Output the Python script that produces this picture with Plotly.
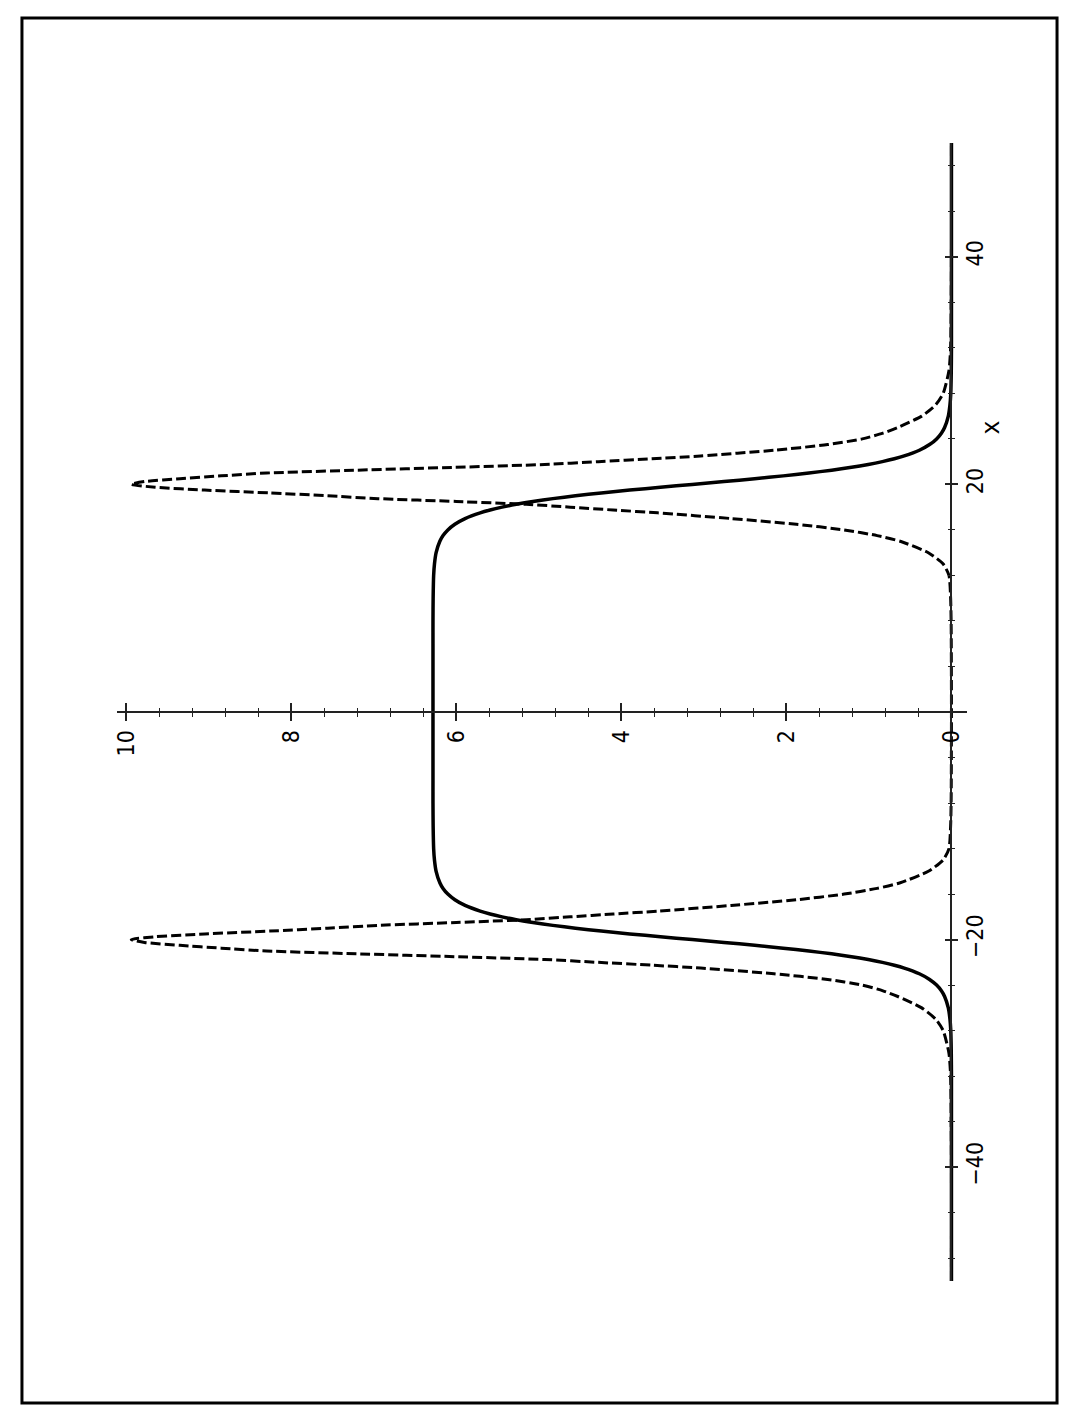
import plotly.graph_objects as go

# variable (drawn vertically) and the two series
v_vals = [-50, -40, -34, -32, -30, -28, -27, -26, -25, -24.5, -24, -23.5, -23, -22.5, -22.25,
          -22, -21.75, -21.5, -21.25, -21, -20.75, -20.5, -20.25, -20, -19.75, -19.5, -19.25,
          -19, -18.75, -18.5, -18.25, -18, -17.75, -17.5, -17, -16.5, -16, -15.5, -15, -14,
          -13, -12, -10, -8, -6, -4,
          0, 4, 6, 8, 10, 12, 13, 14, 15, 15.5, 16, 16.5, 17, 17.5, 17.75, 18, 18.25, 18.5,
          18.75, 19, 19.25, 19.5, 19.75, 20, 20.25, 20.5, 20.75, 21, 21.25, 21.5, 21.75, 22,
          22.25, 22.5, 23, 23.5, 24, 24.5, 25, 26, 27, 28, 30, 32, 34, 40, 50]

solid_vals = [0, 0, 0, 0, 0.002, 0.008, 0.018, 0.038, 0.083, 0.122, 0.180, 0.265, 0.389, 0.572, 0.692,
              0.837, 1.008, 1.211, 1.452, 1.727, 2.039, 2.385, 2.756, 3.142, 3.527, 3.898, 4.244,
              4.556, 4.831, 5.072, 5.275, 5.446, 5.591, 5.711, 5.894, 6.018, 6.103, 6.161, 6.200, 6.245,
              6.265, 6.275, 6.281, 6.283, 6.283, 6.283,
              6.283, 6.283, 6.283, 6.283, 6.281, 6.275, 6.265, 6.245, 6.200, 6.161, 6.103, 6.018, 5.894,
              5.711, 5.591, 5.446, 5.275, 5.072, 4.831, 4.556, 4.244, 3.898, 3.527, 3.142, 2.756,
              2.385, 2.039, 1.727, 1.452, 1.211, 1.008, 0.837, 0.692, 0.572, 0.389, 0.265, 0.180,
              0.122, 0.083, 0.038, 0.018, 0.008, 0.002, 0, 0, 0, 0]

dashed_vals = [0, 0, 0.005, 0.01, 0.03, 0.10, 0.19, 0.36, 0.65, 0.83, 1.08, 1.5, 2.15, 3.04, 3.63,
               4.28, 4.93, 6.02, 7.2, 8.3, 8.85, 9.35, 9.78, 9.94, 9.65, 9.05, 8.26,
               7.56, 6.95, 6.0, 5.15, 4.62, 4.1, 3.56, 2.67, 1.88, 1.3, 0.9, 0.62, 0.28,
               0.10, 0.03, 0.01, 0.004, 0.002, 0.001,
               0, 0.001, 0.002, 0.004, 0.01, 0.03, 0.10, 0.28, 0.62, 0.9, 1.3, 1.88, 2.67, 3.56,
               4.1, 4.62, 5.15, 6.0, 6.95, 7.56, 8.26, 9.05, 9.65, 9.94, 9.78, 9.35, 8.85, 8.3, 7.2,
               6.02, 4.93, 4.28, 3.63, 3.04, 2.15, 1.5, 1.08, 0.83, 0.65, 0.36, 0.19, 0.10, 0.03,
               0.01, 0.005, 0, 0]

value_ticks = [0, 2, 4, 6, 8, 10]
value_labels = ["0", "2", "4", "6", "8", "10"]
var_ticks = [-40, -20, 20, 40]
var_labels = ["\u221240", "\u221220", "20", "40"]
axis_label = "x"

# page offset of the figure inside the browser body (default 8px body margin)
OFF = 8
W, H = 1074 - 2 * OFF, 1421 - 2 * OFF
FONT = "DejaVu Sans Condensed, DejaVu Sans, sans-serif"
AX = "#222222"


def px(x):
    return (x - OFF) / W


def py(y):
    return 1 - (y - OFF) / H


fig = go.Figure()
fig.add_trace(go.Scatter(x=dashed_vals, y=v_vals, mode="lines",
                         line=dict(color="black", width=3, dash="10px,4px",
                                   shape="spline", smoothing=0.6),
                         hoverinfo="skip"))
fig.add_trace(go.Scatter(x=solid_vals, y=v_vals, mode="lines",
                         line=dict(color="black", width=3.5, shape="spline", smoothing=0.6),
                         hoverinfo="skip"))
fig.add_trace(go.Scatter(x=[], y=[], xaxis="x2", yaxis="y2", showlegend=False))

xdom = [px(113), px(967)]
ydom = [py(1281), py(143)]
xrange_ = [10.117, -0.193]
yrange_ = [-50, 50]
xpos = py(712)
ypos = px(951)

fig.update_layout(
    width=W, height=H,
    margin=dict(l=0, r=0, t=0, b=0),
    paper_bgcolor="white", plot_bgcolor="rgba(0,0,0,0)",
    showlegend=False,
    xaxis=dict(domain=xdom, range=xrange_, anchor="free", position=xpos, side="bottom",
               showline=True, linecolor=AX, linewidth=2, showgrid=False, zeroline=False,
               tickmode="array", tickvals=value_ticks, ticktext=value_labels,
               ticks="outside", ticklen=8, tickwidth=1.5, tickcolor=AX,
               tickangle=-90, tickfont=dict(family=FONT, size=23, color="black"),
               minor=dict(tickmode="linear", tick0=0, dtick=0.4, ticks="outside",
                          ticklen=4, tickwidth=1.2, tickcolor=AX, showgrid=False)),
    xaxis2=dict(domain=xdom, range=xrange_, anchor="free", position=xpos, side="bottom",
                overlaying="x", showline=False, showgrid=False, zeroline=False,
                tickmode="array", tickvals=value_ticks, showticklabels=False,
                ticks="inside", ticklen=9, tickwidth=1.5, tickcolor=AX,
                minor=dict(tickmode="linear", tick0=0, dtick=0.4, ticks="inside",
                           ticklen=4, tickwidth=1.2, tickcolor=AX, showgrid=False)),
    yaxis=dict(domain=ydom, range=yrange_, anchor="free", position=ypos, side="right",
               showline=True, linecolor=AX, linewidth=2, showgrid=False, zeroline=False,
               tickmode="array", tickvals=var_ticks, ticktext=var_labels,
               ticks="outside", ticklen=6, tickwidth=1.5, tickcolor=AX,
               tickangle=-90, tickfont=dict(family=FONT, size=23, color="black"),
               ticklabelstandoff=-3,
               minor=dict(tickmode="linear", tick0=0, dtick=4, ticks="outside",
                          ticklen=3, tickwidth=1.2, tickcolor=AX, showgrid=False)),
    yaxis2=dict(domain=ydom, range=yrange_, anchor="free", position=ypos, side="right",
                overlaying="y", showline=False, showgrid=False, zeroline=False,
                tickmode="array", tickvals=var_ticks, showticklabels=False,
                ticks="inside", ticklen=6, tickwidth=1.5, tickcolor=AX,
                minor=dict(tickmode="linear", tick0=0, dtick=4, ticks="inside",
                           ticklen=3, tickwidth=1.2, tickcolor=AX, showgrid=False)),
    annotations=[dict(text=axis_label, xref="paper", yref="y", x=px(990), y=25,
                      xanchor="center", yanchor="middle",
                      showarrow=False, textangle=-90,
                      font=dict(family="DejaVu Sans Mono, monospace", size=24, color="black"))],
    shapes=[dict(type="rect", xref="paper", yref="paper",
                 x0=px(18), x1=px(1057), y0=py(1403), y1=py(18),
                 line=dict(color="black", width=3))],
)

fig.write_html("out.html")
